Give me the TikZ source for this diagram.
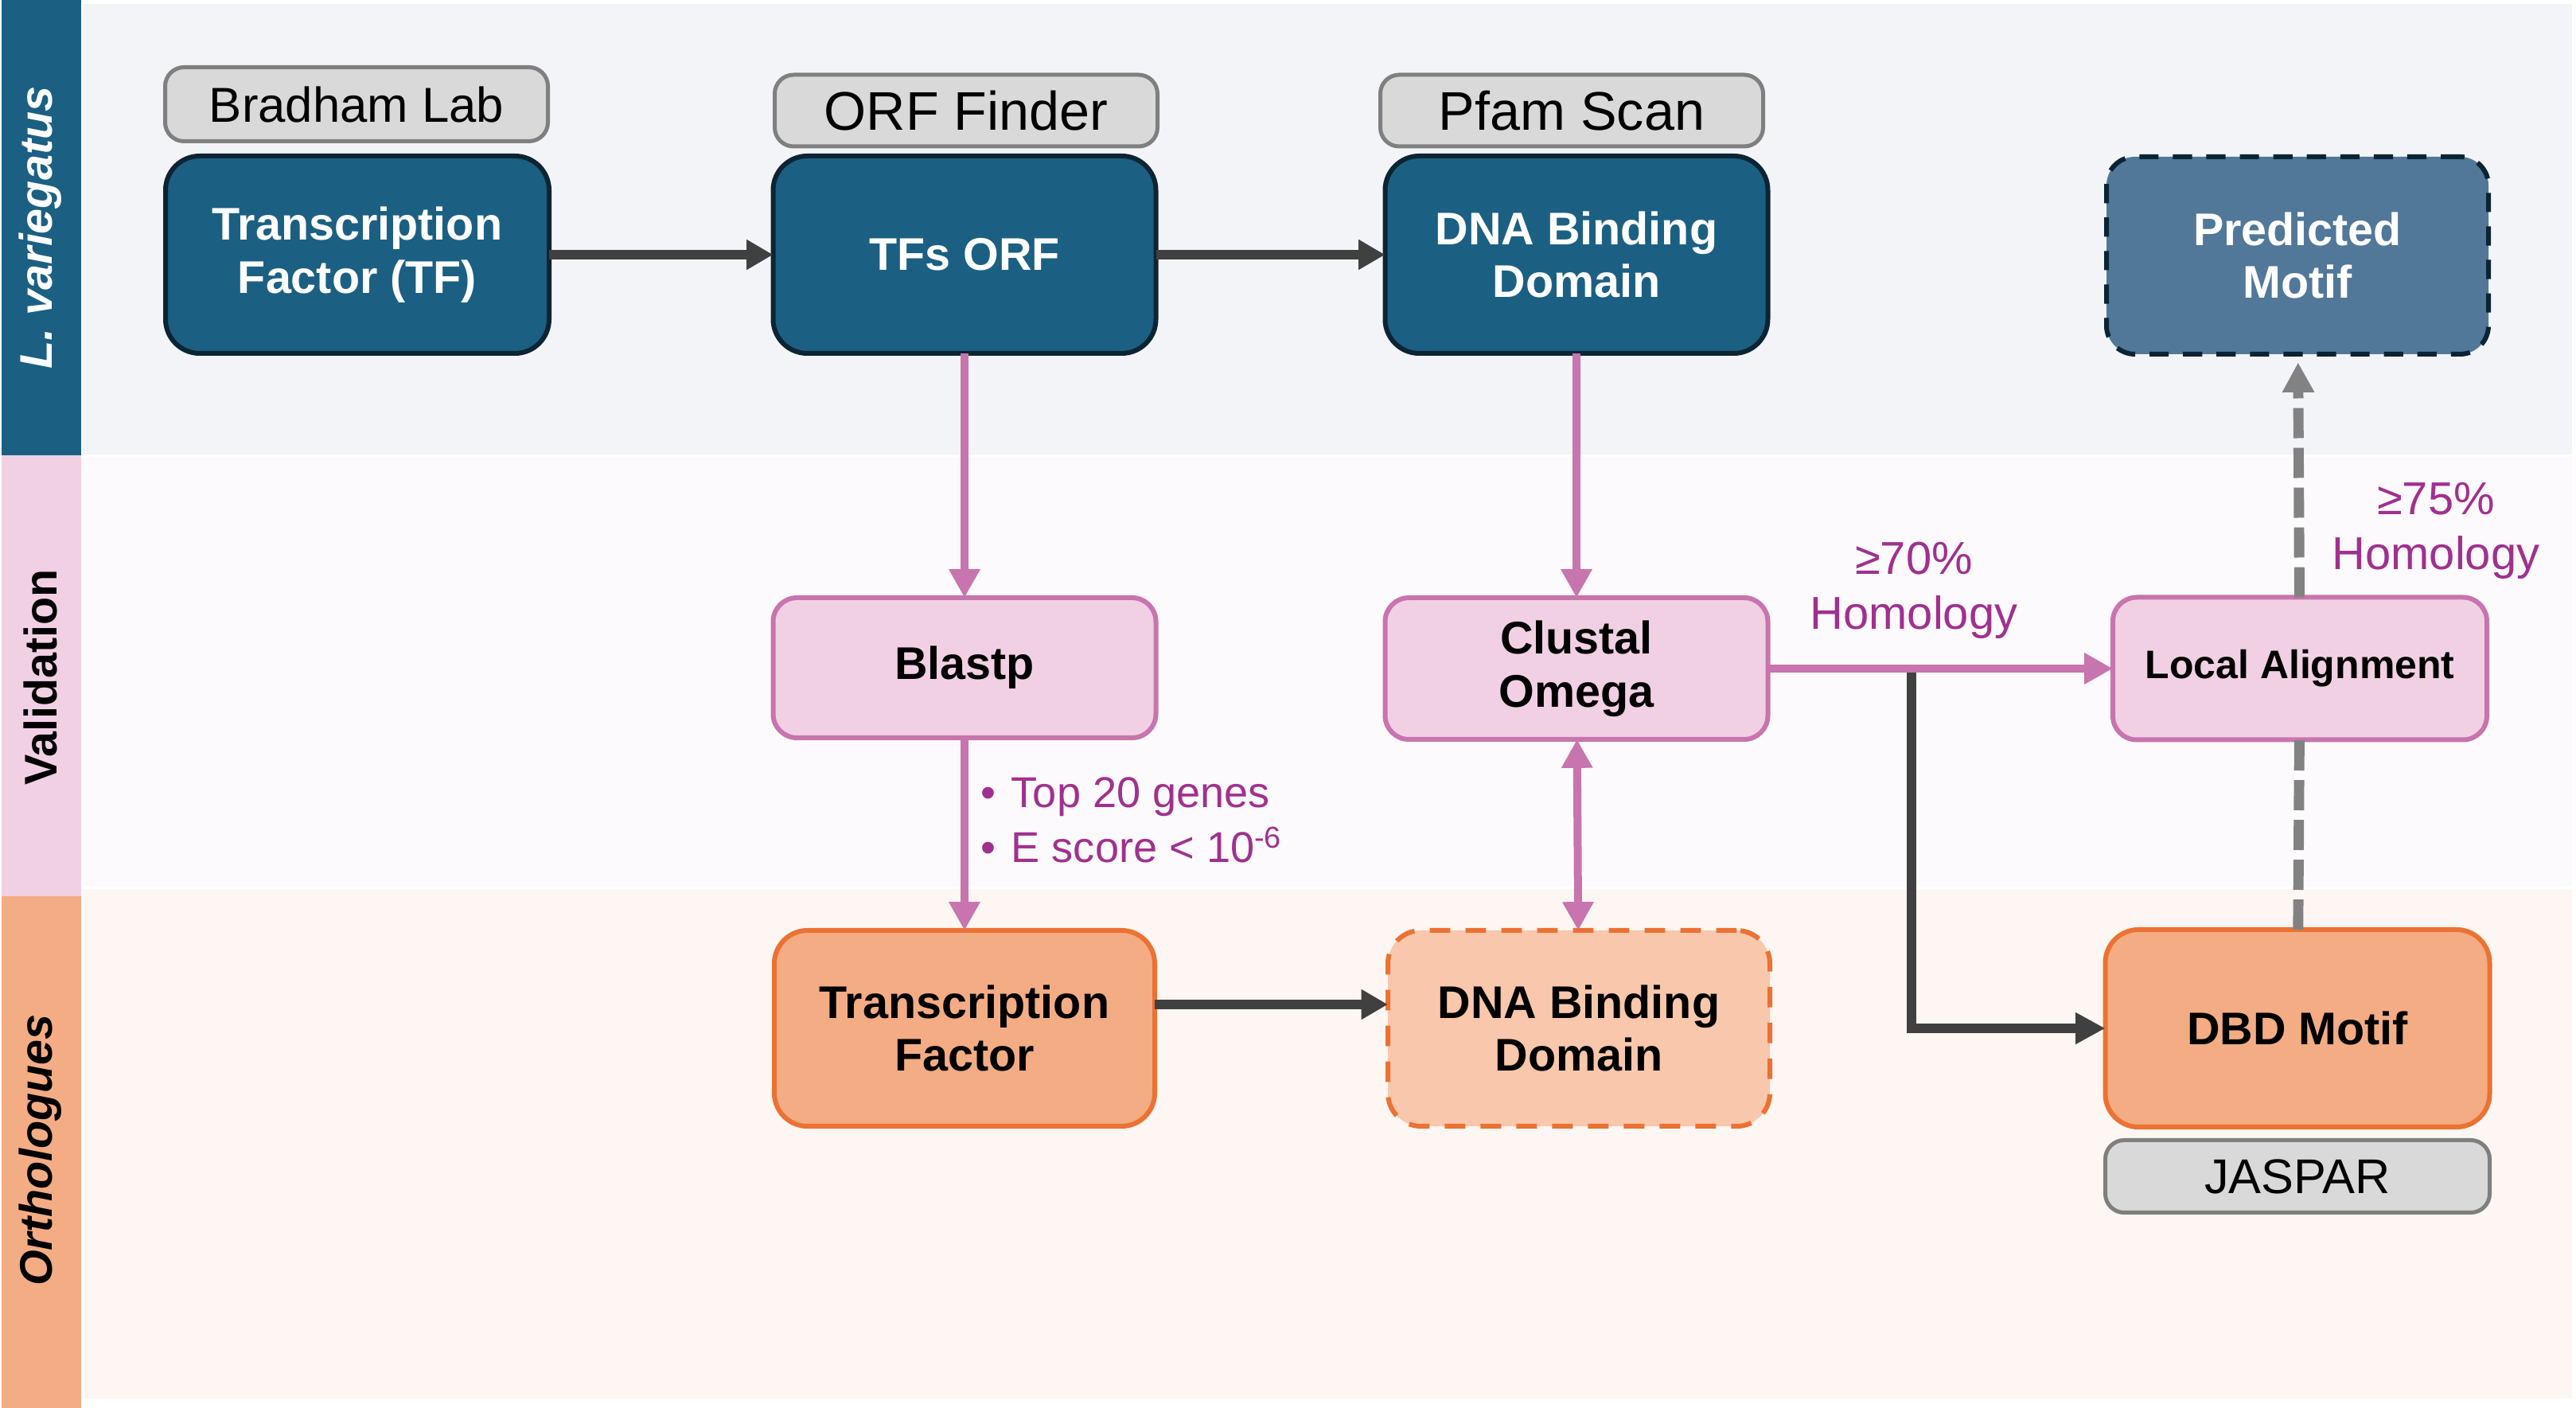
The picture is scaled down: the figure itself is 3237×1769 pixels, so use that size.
\documentclass[tikz,border=0pt]{standalone}
\usepackage{fontspec}
\setmainfont{Liberation Sans}
\usetikzlibrary{arrows.meta}
\definecolor{laneTop}{HTML}{F2F4F8}
\definecolor{laneMid}{HTML}{FCFAFC}
\definecolor{laneBot}{HTML}{FEF6F2}
\definecolor{bandBlue}{HTML}{1B6083}
\definecolor{bandPink}{HTML}{F1D0E4}
\definecolor{bandOrange}{HTML}{F3AC84}
\definecolor{boxBlue}{HTML}{1B6083}
\definecolor{boxBlueBorder}{HTML}{0C2433}
\definecolor{predFill}{HTML}{517899}
\definecolor{predBorder}{HTML}{0B2433}
\definecolor{pinkFill}{HTML}{F2D0E4}
\definecolor{pinkBorder}{HTML}{C874AE}
\definecolor{orangeFill}{HTML}{F3AC84}
\definecolor{orangeBorder}{HTML}{EB7233}
\definecolor{orangeLight}{HTML}{F9C7AB}
\definecolor{greyFill}{HTML}{D9D9D9}
\definecolor{greyBorder}{HTML}{7F7F7F}
\definecolor{pinkText}{HTML}{A0308F}
\definecolor{darkArrow}{HTML}{404040}
\definecolor{dashGrey}{HTML}{828282}
\newcommand{\boxfont}{\fontsize{13.8pt}{16pt}\selectfont\bfseries}
\tikzset{
  sz/.style 2 args={minimum width=#1*0.24pt, minimum height=#2*0.24pt},
  basebox/.style={inner sep=0pt, outer sep=0pt, align=center, line width=1.44pt},
  bluebox/.style={basebox, fill=boxBlue, draw=boxBlueBorder, rounded corners=10.3pt, text=white, font=\boxfont},
  predbox/.style={basebox, fill=predFill, draw=predBorder, rounded corners=8.6pt, text=white, font=\boxfont, dash pattern=on 5.8pt off 4.3pt},
  pinkbox/.style={basebox, fill=pinkFill, draw=pinkBorder, rounded corners=7.2pt, text=black, font=\boxfont},
  orangebox/.style={basebox, fill=orangeFill, draw=orangeBorder, rounded corners=10pt, text=black, font=\boxfont},
  orangedash/.style={basebox, fill=orangeLight, draw=orangeBorder, rounded corners=10pt, text=black, font=\boxfont, dash pattern=on 6.2pt off 4.6pt},
  greylab/.style={basebox, line width=1.2pt, fill=greyFill, draw=greyBorder, rounded corners=5.7pt, text=black},
  darkarrow/.style={draw=darkArrow, line width=2.88pt, -{Triangle[length=8pt,width=8.6pt]}},
  darkelbow/.style={draw=darkArrow, line width=3.1pt, -{Triangle[length=9pt,width=9pt]}},
  pinkarrow/.style={draw=pinkBorder, line width=2.4pt, -{Triangle[length=8.6pt,width=8.9pt]}},
  pinkboth/.style={draw=pinkBorder, line width=2.4pt, {Triangle[length=8.6pt,width=8.9pt]}-{Triangle[length=8.6pt,width=8.9pt]}},
  greydash/.style={draw=dashGrey, line width=3.1pt, dash pattern=on 9.1pt off 2.9pt},
  pinklabel/.style={text=pinkText, inner sep=0pt, font=\fontsize{13.9pt}{16.6pt}\selectfont},
  bandlabel/.style={rotate=90, inner sep=0pt, font=\fontsize{13.8pt}{16pt}\selectfont\bfseries}
}
\begin{document}
\begin{tikzpicture}[x=0.24pt, y=-0.24pt]
\useasboundingbox (0,0) rectangle (3237,1769);
\fill[white] (0,0) rectangle (3237,1769);
% lanes
\fill[laneTop] (104,5) rectangle (3232,571);
\fill[laneMid] (104,574) rectangle (3232,1113);
\fill[laneBot] (104,1117) rectangle (3232,1757);
% left band
\fill[bandBlue] (2,0) rectangle (102,572);
\fill[bandPink] (2,572) rectangle (102,1126);
\fill[bandOrange] (2,1126) rectangle (102,1769);
\node[bandlabel, text=white, font=\fontsize{13.8pt}{16pt}\selectfont\bfseries\itshape] (lv) at (51,286) {L. variegatus};
\node[bandlabel, text=black] (val) at (51,851) {Validation};
\node[bandlabel, text=black, font=\fontsize{13.8pt}{16pt}\selectfont\bfseries\itshape] (orth) at (51,1445) {Orthologues};
% top row
\node[greylab, sz={481}{93}, font=\fontsize{14.8pt}{16pt}\selectfont] (bradham) at (448,131) {Bradham Lab};
\node[bluebox, sz={482}{248}] (tf) at (449,320) {Transcription\\Factor (TF)};
\node[greylab, sz={481}{90}, font=\fontsize{16.4pt}{18pt}\selectfont] (orffinder) at (1214,139) {ORF Finder};
\node[bluebox, sz={481}{248}] (orf) at (1212,320) {TFs ORF};
\node[greylab, sz={481}{90}, font=\fontsize{16.4pt}{18pt}\selectfont] (pfam) at (1975,139) {Pfam Scan};
\node[bluebox, sz={481}{248}] (dbd) at (1981,320) {DNA Binding\\Domain};
\node[predbox, sz={480}{248}] (pred) at (2887,321) {Predicted\\Motif};
% middle row
\node[pinkbox, sz={481}{176}] (blastp) at (1212,839) {Blastp};
\node[pinkbox, sz={481}{178}] (clustal) at (1981,840) {Clustal\\Omega};
\node[pinkbox, sz={470}{179}, font=\fontsize{12pt}{14pt}\selectfont\bfseries] (local) at (2890,840) {Local Alignment};
% bottom row
\node[orangebox, sz={478}{246}] (tforth) at (1212,1292) {Transcription\\Factor};
\node[orangedash, sz={480}{246}] (dbdorth) at (1984,1292) {DNA Binding\\Domain};
\node[orangebox, sz={483}{248}] (motif) at (2887,1292) {DBD Motif};
\node[greylab, sz={483}{91}, font=\fontsize{14.7pt}{16pt}\selectfont] (jaspar) at (2887,1478) {JASPAR};
% labels
\node[pinklabel, align=center] (h70) at (2405,742) {≥70\%\\Homology};
\node[pinklabel, align=center] (h75) at (3061,667) {≥75\%\\Homology};
\node[pinklabel, anchor=west, align=left, font=\fontsize{13pt}{16.6pt}\selectfont] (crit) at (1232,1030) {•\hspace{0.35em}Top 20 genes\\•\hspace{0.35em}E score < 10\textsuperscript{-6}};
% connectors
\draw[darkarrow] (tf) -- (orf);
\draw[darkarrow] (orf) -- (dbd);
\draw[pinkarrow] (orf) -- (blastp);
\draw[pinkarrow] (dbd) -- (clustal);
\draw[pinkarrow] (blastp) -- (tforth);
\draw[pinkboth] (clustal) -- (dbdorth);
\draw[darkarrow] ([yshift=7.2pt]tforth.east) -- ([yshift=7.2pt]tforth.east -| dbdorth.west);
\coordinate (split) at (2402,840);
\draw[darkelbow] (split) |- (motif.west);
\draw[pinkarrow] (clustal) -- (local);
\draw[greydash] (motif) -- (local);
\draw[greydash, -{Triangle[length=9pt,width=9.1pt]}, shorten >=2.5pt] (local) -- (pred);
\end{tikzpicture}
\end{document}
